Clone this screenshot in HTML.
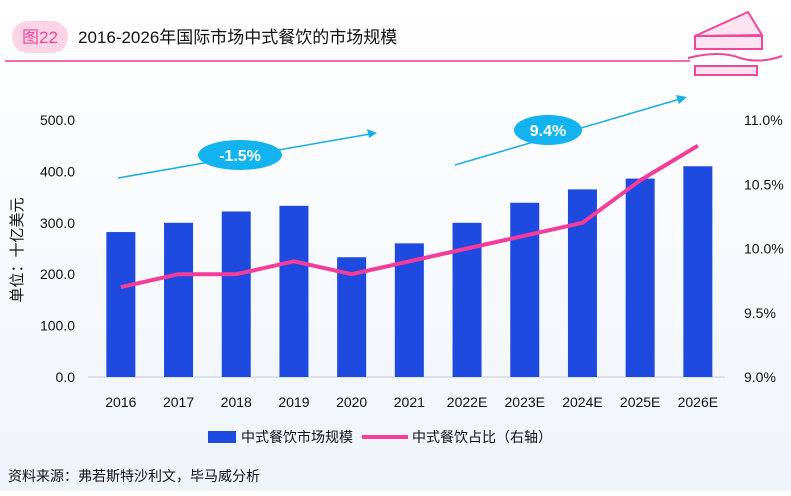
<!DOCTYPE html>
<html><head><meta charset="utf-8"><style>
body{margin:0;width:791px;height:491px;overflow:hidden;background:linear-gradient(180deg,#fff 0%,#f6f9fc 60%,#eef4f9 100%);font-family:"Liberation Sans","Noto Sans CJK SC",sans-serif;}
svg text{font-family:"Liberation Sans","Noto Sans CJK SC",sans-serif;}
</style></head><body>
<svg id="c" width="791" height="491" xmlns="http://www.w3.org/2000/svg">
<g>
<rect x="12" y="21" width="56" height="32" rx="16" fill="#fdd3e6"/>
<text x="40" y="43" font-size="17" fill="#f0479a" text-anchor="middle">图22</text>
<text x="78" y="43" font-size="17" fill="#111">2016-2026年国际市场中式餐饮的市场规模</text>
<line x1="5" y1="61" x2="690" y2="61" stroke="#f06aa8" stroke-width="2"/>
<g fill="none" stroke="#f0479a" stroke-width="2">
<path d="M695 36 L748 12 L762 35 Z" fill="#fde4f0"/>
<rect x="695" y="36" width="67" height="13" fill="#fde4f0"/>
<path d="M688 58 Q720 50 740 58 Q760 64 782 56"/>
<rect x="695" y="66" width="62" height="9" fill="#fde4f0"/>
</g>
</g>
<text transform="translate(22,250) rotate(-90)" font-size="15" fill="#111" text-anchor="middle">单位：十亿美元</text>
<g id="plot"></g>
<g>
<line x1="118" y1="178" x2="370" y2="134" stroke="#1aaee8" stroke-width="1.5"/>
<path d="M377 133 L367 129 L369 138 Z" fill="#1aaee8"/>
<ellipse cx="240" cy="155" rx="42" ry="15" fill="#12b3ef"/>
<text x="240" y="161" font-size="16" font-weight="bold" fill="#fff" text-anchor="middle">-1.5%</text>
</g>
<g>
<line x1="455" y1="165" x2="680" y2="99" stroke="#1aaee8" stroke-width="1.5"/>
<path d="M687 97 L676 95 L679 104 Z" fill="#1aaee8"/>
<ellipse cx="548" cy="130" rx="34" ry="15" fill="#12b3ef"/>
<text x="548" y="136" font-size="16" font-weight="bold" fill="#fff" text-anchor="middle">9.4%</text>
</g>
<g>
<rect x="208" y="431" width="28" height="12" fill="#1f4ae0"/>
<text x="241" y="442" font-size="14" fill="#111">中式餐饮市场规模</text>
<line x1="362" y1="437" x2="408" y2="437" stroke="#f43c9a" stroke-width="4"/>
<text x="412" y="442" font-size="14" fill="#111">中式餐饮占比（右轴）</text>
</g>
<text x="8" y="481" font-size="14" fill="#111">资料来源：弗若斯特沙利文，毕马威分析</text>
</svg>
<script>
const categories=["2016","2017","2018","2019","2020","2021","2022E","2023E","2024E","2025E","2026E"];
const marketSize=[282,300,322,333,233,260,300,339,365,386,410];
const sharePct=[9.7,9.8,9.8,9.9,9.8,9.9,10.0,10.1,10.2,10.53,10.8];
const leftTicks=[0,100,200,300,400,500];
const rightTicks=[9.0,9.5,10.0,10.5,11.0];
const NS="http://www.w3.org/2000/svg";
const plotG=document.getElementById('plot');
const X0=92,STEP=57.7,BASE=377,YTOP=120;
const xc=i=>X0+STEP*(i+0.5);
const yL=v=>BASE-(v/500)*(BASE-YTOP);
const yR=v=>BASE-((v-9)/2)*(BASE-YTOP);
function mk(t,a){const e=document.createElementNS(NS,t);for(const k in a)e.setAttribute(k,a[k]);plotG.appendChild(e);return e;}
leftTicks.forEach(v=>{const t=mk('text',{x:75,y:yL(v)+5,'font-size':14,fill:'#111','text-anchor':'end'});t.textContent=v.toFixed(1);

});
rightTicks.forEach(v=>{const t=mk('text',{x:744,y:yR(v)+5,'font-size':14,fill:'#111'});t.textContent=v.toFixed(1)+'%';

});
const ax=mk('line',{x1:88,y1:BASE,x2:725,y2:BASE,stroke:'#ccc','stroke-width':1});


categories.forEach((c,i)=>{
const h=BASE-yL(marketSize[i]);
const r=mk('rect',{x:xc(i)-14.5,y:yL(marketSize[i]),width:29,height:h,fill:'#1f4ae0'});


const t=mk('text',{x:xc(i),y:407,'font-size':14,fill:'#111','text-anchor':'middle'});t.textContent=c;


});
const pl=mk('polyline',{points:sharePct.map((v,i)=>xc(i)+','+yR(v)).join(' '),fill:'none',stroke:'#f43c9a','stroke-width':4,'stroke-linejoin':'round'});


</script>
</body></html>
